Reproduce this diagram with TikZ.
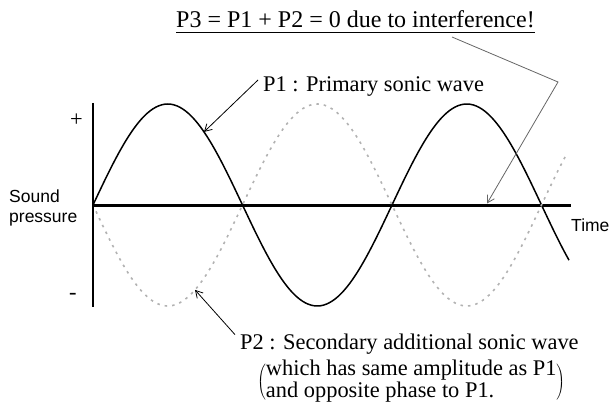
\documentclass[tikz,border=0pt]{standalone}
\usepackage{fontspec}
\setmainfont{Liberation Serif}
\newfontfamily\axisfont{Liberation Sans}
\usetikzlibrary{arrows.meta}
\tikzset{
  wave/.style={line width=1.5pt,smooth,samples=160},
  antiwave/.style={line width=1.6pt,black!30,dash pattern=on 2.5pt off 5pt,smooth,samples=160},
  pointer/.style={-{Straight Barb[length=7pt,width=8pt]},line width=0.8pt},
  lbl/.style={font=\fontsize{22.4}{21}\selectfont,inner sep=0pt,anchor=base west},
  axlbl/.style={font=\fontsize{17.5}{19}\axisfont,inner sep=0pt,anchor=base west,align=left}
}
\delimiterfactor=780
\delimitershortfall=12pt
\begin{document}
\begin{tikzpicture}[x=1pt,y=-1pt]
  \useasboundingbox (0,0) rectangle (609,403);
  % axes
  \draw[line width=1.3pt] (93,103) -- (93,307);
  \draw[line width=3pt] (93,205) -- (571,205);
  \node[lbl] (plus) at (70,127) {+};
  \node[lbl] (minus) at (69,299) {-};
  \node[axlbl] (sp) at (9,222) {Sound\\pressure};
  \node[axlbl] (time) at (571,231) {Time};
  % the two waves
  \draw[wave] plot[domain=93:569] (\x,{205-101*sin((\x-93)/149.5*180)});
  \draw[antiwave] plot[domain=96:567] (\x,{205+101*sin((\x-93)/149.5*180)});
  \coordinate (p1tip) at (204,{205-101*sin((204-93)/149.5*180)});
  \coordinate (p2tip) at (195,{205+101*sin((195-93)/149.5*180)});
  \coordinate (p3tip) at (487,203.5);
  \coordinate (p3bend) at (558,82);
  % labels
  \node[lbl,font=\fontsize{24}{24}\selectfont] (title) at (176,28) {P3 = P1 + P2 = 0 due to interference!};
  \draw[line width=0.9pt] ([yshift=-4pt]title.base west) -- ([yshift=-4pt]title.base east);
  \node[lbl] (p1lbl) at (263,92) {P1 : Primary sonic wave};
  \node[lbl] (p2lbl) at (240,349) {P2 : Secondary additional sonic wave};
  \node[lbl,anchor=west] (p2note) at (257,382)
    {$\left(\begin{tabular}{@{}l@{}}which has same amplitude as P1\\and opposite phase to P1.\end{tabular}\right)$};
  % pointers
  \draw[pointer] ([xshift=-5pt,yshift=7pt]p1lbl.west) -- (p1tip);
  \draw[pointer] ([xshift=-5pt,yshift=9pt]p2lbl.west) -- (p2tip);
  \draw[pointer,black!60] ([xshift=276pt,yshift=-9pt]title.base west) -- (p3bend) -- (p3tip);
\end{tikzpicture}
\end{document}
